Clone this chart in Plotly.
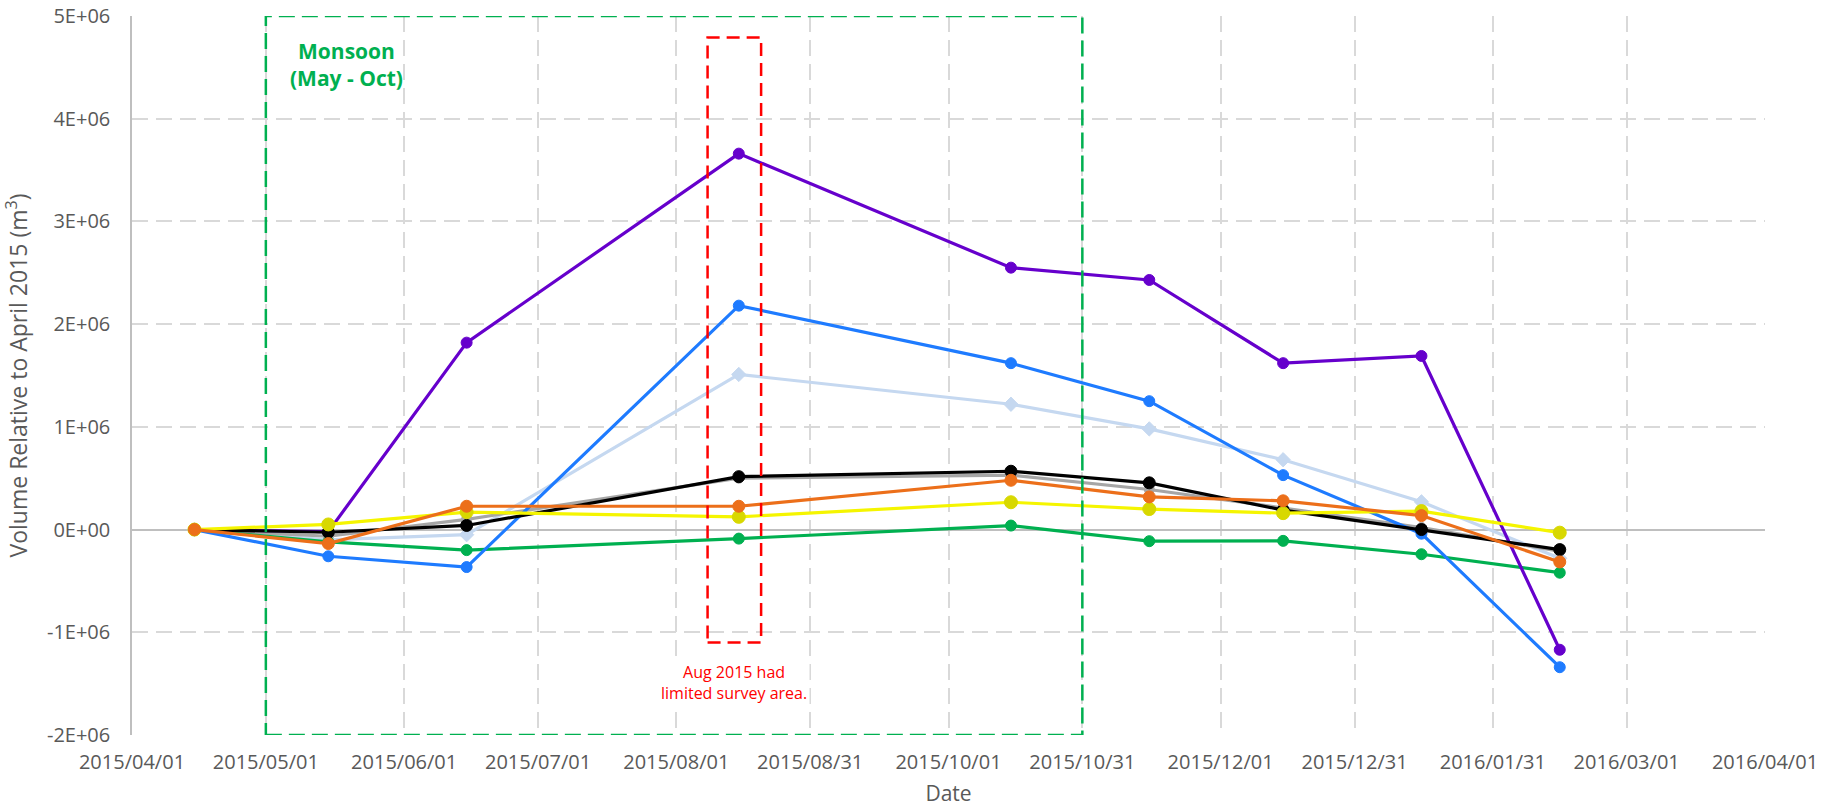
import plotly.graph_objects as go

# Survey dates (roughly monthly, mid-month)
survey_dates = ["2015-04-15", "2015-05-15", "2015-06-15", "2015-08-15", "2015-10-15",
                "2015-11-15", "2015-12-15", "2016-01-15", "2016-02-15"]

# Volume change relative to April 2015 (m^3), one list per area
vol_purple = [0, -0.02e6, 1.82e6, 3.66e6, 2.55e6, 2.43e6, 1.62e6, 1.69e6, -1.17e6]
vol_blue = [0, -0.26e6, -0.365e6, 2.18e6, 1.62e6, 1.25e6, 0.53e6, -0.04e6, -1.34e6]
vol_lightblue = [0, -0.10e6, -0.05e6, 1.51e6, 1.22e6, 0.98e6, 0.68e6, 0.27e6, -0.28e6]
vol_gray = [0, -0.065e6, 0.10e6, 0.50e6, 0.53e6, 0.39e6, 0.21e6, 0.02e6, -0.21e6]
vol_black = [0, -0.026e6, 0.04e6, 0.515e6, 0.568e6, 0.455e6, 0.19e6, 0.0, -0.195e6]
vol_orange = [0, -0.136e6, 0.227e6, 0.227e6, 0.48e6, 0.318e6, 0.28e6, 0.136e6, -0.315e6]
vol_yellow = [0, 0.05e6, 0.17e6, 0.124e6, 0.266e6, 0.20e6, 0.16e6, 0.18e6, -0.03e6]
vol_green = [0, -0.12e6, -0.20e6, -0.088e6, 0.039e6, -0.113e6, -0.11e6, -0.24e6, -0.42e6]

# Axis ticks
x_tick_dates = ["2015-04-01", "2015-05-01", "2015-06-01", "2015-07-01", "2015-08-01",
                "2015-08-31", "2015-10-01", "2015-10-31", "2015-12-01", "2015-12-31",
                "2016-01-31", "2016-03-01", "2016-04-01"]
x_tick_text = [d.replace("-", "/") for d in x_tick_dates]
y_ticks = [-2e6, -1e6, 0, 1e6, 2e6, 3e6, 4e6, 5e6]
y_tick_text = [f"{v:.0E}" for v in y_ticks]

FONT = "Open Sans, Lato, sans-serif"
GRID = "#D9D9D9"
TEXT = "#595959"

fig = go.Figure()

series = [
    (vol_lightblue, "#C5D8F0", "#C5D8F0", "diamond", 11),
    (vol_gray, "#A6A6A6", "#A6A6A6", "circle", 10),
    (vol_green, "#00B050", "#00B050", "circle", 11),
    (vol_blue, "#1E7BFF", "#1E7BFF", "circle", 11),
    (vol_purple, "#6600CC", "#6600CC", "circle", 11),
    (vol_black, "#000000", "#000000", "circle", 12),
    (vol_yellow, "#F5F500", "#D8D800", "circle", 13),
    (vol_orange, "#EC6F1A", "#EC6F1A", "circle", 12),
]

for vals, lc, mc, sym, ms in series:
    fig.add_trace(go.Scatter(
        x=survey_dates, y=vals, mode="lines+markers",
        line=dict(color=lc, width=3.2),
        marker=dict(color=mc, size=ms, symbol=sym,
                    line=dict(color=mc, width=1)),
        showlegend=False, hoverinfo="x+y",
    ))

# Monsoon period box (May - Oct)
fig.add_shape(type="rect", xref="x", yref="y",
              x0="2015-05-01", x1="2015-10-31", y0=-2e6, y1=5e6,
              line=dict(color="#00B050", width=2.5, dash="16px,7px"),
              fillcolor="rgba(0,0,0,0)", layer="above")

# August survey box
fig.add_shape(type="rect", xref="x", yref="y",
              x0="2015-08-08", x1="2015-08-20", y0=-1.1e6, y1=4.79e6,
              line=dict(color="#FF0000", width=2.5, dash="13px,7px"),
              fillcolor="rgba(0,0,0,0)", layer="above")

fig.add_annotation(x="2015-05-19", y=4.53e6, xref="x", yref="y",
                   text="<b>Monsoon<br>(May - Oct)</b>", showarrow=False,
                   font=dict(family=FONT, size=21, color="#00B050"),
                   xanchor="center", yanchor="middle", align="center")

fig.add_annotation(x="2015-08-14", y=-1.49e6, xref="x", yref="y",
                   text="Aug 2015 had<br>limited survey area.", showarrow=False,
                   font=dict(family=FONT, size=16, color="#FF0000"),
                   bgcolor="white", borderpad=2,
                   xanchor="center", yanchor="middle", align="center")

fig.update_layout(
    width=1839, height=811,
    margin=dict(l=132, r=74, t=16, b=76),
    paper_bgcolor="white", plot_bgcolor="white",
    font=dict(family=FONT, size=20, color=TEXT),
    showlegend=False,
)

fig.update_xaxes(
    range=["2015-04-01", "2016-04-01"], automargin=False,
    tickmode="array", tickvals=x_tick_dates, ticktext=x_tick_text,
    showgrid=True, gridcolor=GRID, gridwidth=1.5, griddash="16px,8px",
    showline=False, zeroline=False, ticks="", ticklabelstandoff=13,
    tickfont=dict(family=FONT, size=20, color=TEXT),
    title=dict(text="Date", font=dict(family=FONT, size=21, color=TEXT), standoff=12),
)

fig.update_yaxes(
    range=[-2e6, 5e6], automargin=False,
    tickmode="array", tickvals=y_ticks, ticktext=y_tick_text,
    showgrid=True, gridcolor=GRID, gridwidth=1.5, griddash="16px,8px",
    showline=True, linecolor="#BFBFBF", linewidth=1.5,
    zeroline=True, zerolinecolor="#BFBFBF", zerolinewidth=1.5,
    ticks="", ticklabelstandoff=16,
    tickfont=dict(family=FONT, size=20, color=TEXT),
    title=dict(text="Volume Relative to April 2015 (m<sup>3</sup>)",
               font=dict(family=FONT, size=23, color=TEXT), standoff=14),
)

fig.write_html("out.html")
